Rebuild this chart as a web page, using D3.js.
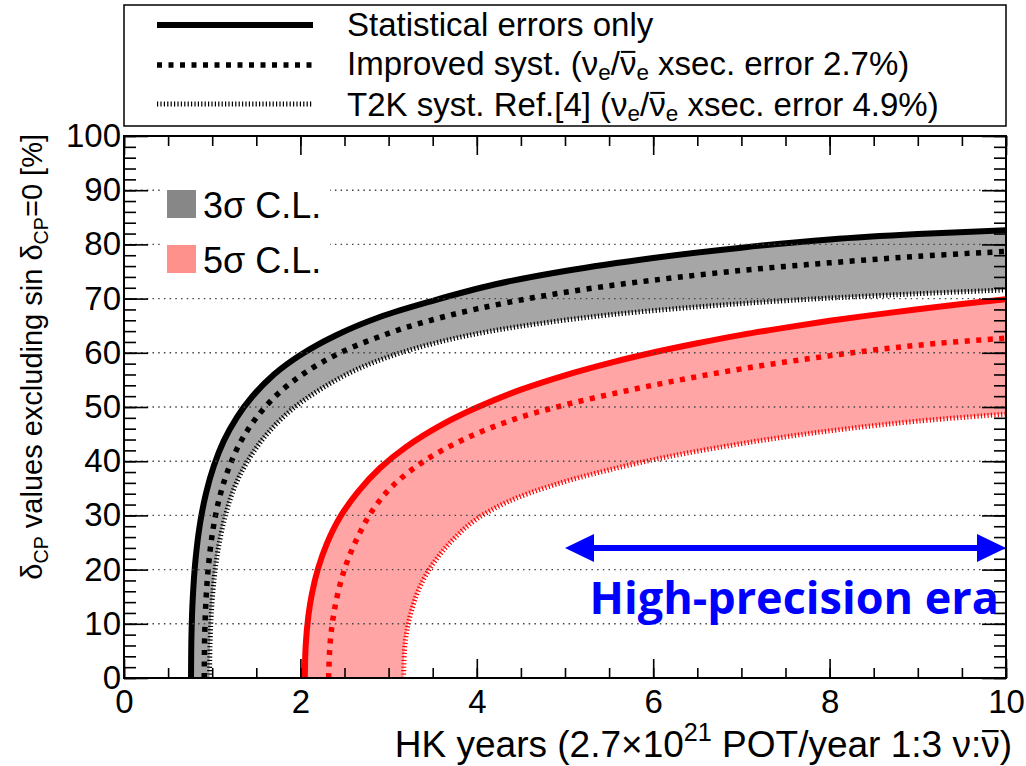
<!DOCTYPE html>
<html>
<head>
<meta charset="utf-8">
<script src="https://cdn.jsdelivr.net/npm/d3@7"></script>
<style>
  html, body { margin: 0; padding: 0; background: #fff; }
  svg { display: block; font-family: "Liberation Sans", Arial, Helvetica, sans-serif; }
</style>
</head>
<body>
<svg id="chart" width="1026" height="766"></svg>
<script>
// Fraction of delta_CP values that exclude sin(delta_CP)=0, vs. HK running time

// 3 sigma, statistical errors only
const years3Stat = [0.76, 0.765, 0.78, 0.81, 0.86, 0.93, 1.02, 1.13, 1.28, 1.45, 1.7, 2.0, 2.4, 2.9, 3.5, 4.2, 5.0, 6.0, 7.0, 8.0, 9.0, 10];
const frac3Stat  = [0, 8, 14.8, 21.7, 28.3, 34.1, 39.2, 43.7, 48.1, 51.85, 56, 59.6, 63.2, 66.6, 69.6, 72.6, 75.1, 77.5, 79.4, 80.9, 81.9, 82.6];
// 3 sigma, improved systematics
const years3Impr = [0.91, 0.915, 0.93, 0.96, 1.01, 1.08, 1.18, 1.32, 1.5, 1.75, 2.05, 2.45, 3.0, 3.5, 4.0, 4.65, 5.3, 6.0, 7.0, 8.0, 9.0, 10];
const frac3Impr  = [0, 7.8, 14.5, 21.1, 27.5, 33.1, 38.4, 43.5, 48, 52.5, 56.3, 60, 63.6, 66.1, 68.1, 70.2, 71.9, 73.4, 75.2, 76.6, 77.8, 78.7];
// 3 sigma, T2K systematics
const years3T2K  = [0.97, 0.975, 0.99, 1.02, 1.07, 1.15, 1.26, 1.42, 1.62, 1.9, 2.25, 2.65, 3.1, 3.6, 4.16, 4.8, 5.5, 6.3, 7.1, 8.0, 9.0, 10];
const frac3T2K   = [0, 6, 12, 18, 24, 30, 35.5, 40.5, 45, 49.5, 53.5, 57, 59.8, 62.1, 64, 65.6, 67, 68.2, 69.2, 70.1, 70.9, 71.6];
// 5 sigma, statistical errors only
const years5Stat = [2.05, 2.06, 2.09, 2.13, 2.2, 2.3, 2.45, 2.65, 2.9, 3.2, 3.6, 4.0, 4.5, 5.0, 5.5, 6.0, 6.5, 7.0, 7.5, 8.0, 8.5, 9.0, 9.5, 10];
const frac5Stat  = [0, 6, 11.4, 15.5, 20.2, 24.8, 29.7, 34.3, 38.7, 42.65, 46.7, 49.9, 53.2, 55.85, 58.1, 60.05, 61.75, 63.3, 64.65, 65.9, 67.0, 68.05, 69.0, 69.9];
// 5 sigma, improved systematics
const years5Impr = [2.32, 2.335, 2.37, 2.43, 2.52, 2.65, 2.82, 3.05, 3.4, 3.85, 4.4, 5.0, 5.7, 6.4, 7.1, 7.8, 8.5, 9.2, 10];
const frac5Impr  = [0, 6, 11, 16, 21, 26, 31, 35.5, 40, 44, 47.6, 50.4, 53, 55.3, 57.3, 59, 60.5, 61.7, 62.7];
// 5 sigma, T2K systematics
const years5T2K  = [3.17, 3.18, 3.21, 3.27, 3.36, 3.5, 3.7, 3.97, 4.35, 4.85, 5.45, 6.1, 6.8, 7.5, 8.2, 9.0, 10];
const frac5T2K   = [0, 5, 9, 13, 17, 21, 25, 29, 32.5, 35.5, 38.2, 40.6, 42.7, 44.5, 46, 47.4, 48.7];

// Axis ticks
const xMajorTicks = [0, 2, 4, 6, 8, 10];
const yMajorTicks = [0, 10, 20, 30, 40, 50, 60, 70, 80, 90, 100];
const yGridTicks  = [10, 20, 30, 40, 50, 60, 70, 80, 90];
const xMinorTicks = d3.range(0, 10.01, 0.5);
const yMinorTicks = d3.range(0, 100.01, 2);

// Annotation: era arrow span (years) and height (%)
const eraYears = [5.0, 10.0];
const eraLevel = 24;

const svg = d3.select("#chart");
const M = { l: 124, r: 1006, t: 136, b: 678 };
const FONT = 33;

const x = d3.scaleLinear().domain([0, 10]).range([M.l, M.r]);
const y = d3.scaleLinear().domain([0, 100]).range([M.b, M.t]);

const pts = (xs, ys) => xs.map((v, i) => [v, ys[i]]);
const line = d3.line().x(d => x(d[0])).y(d => y(d[1])).curve(d3.curveCatmullRom.alpha(0.5));

const defs = svg.append("defs");
defs.append("clipPath").attr("id", "plotClip")
  .append("rect").attr("x", M.l).attr("y", M.t).attr("width", M.r - M.l).attr("height", M.b - M.t);

const plot = svg.append("g").attr("clip-path", "url(#plotClip)");

// Band = below the stat-only curve and above/left of the T2K-syst curve
function band(id, statPts, t2kPts, fill) {
  const above = line(t2kPts) + `L${x(10)},${y(100)}L${x(0)},${y(100)}L${x(0)},${y(0)}Z`;
  defs.append("clipPath").attr("id", id).append("path").attr("d", above);
  const under = line(statPts) + `L${x(10)},${y(0)}Z`;
  plot.append("path").attr("d", under).attr("fill", fill).attr("clip-path", `url(#${id})`);
}

band("band3", pts(years3Stat, frac3Stat), pts(years3T2K, frac3T2K), "#a6a6a6");
band("band5", pts(years5Stat, frac5Stat), pts(years5T2K, frac5T2K), "#ffa5a5");

// Horizontal dotted grid
svg.append("g").selectAll("line").data(yGridTicks).join("line")
  .attr("x1", M.l).attr("x2", M.r)
  .attr("y1", d => y(d)).attr("y2", d => y(d))
  .attr("stroke", "#444").attr("stroke-width", 1.4).attr("stroke-dasharray", "1.5 4.2");

// Curve styles
const STYLE = {
  stat: { w: 6, dash: null },
  impr: { w: 5.5, dash: "5 6.5" },
  t2k:  { w: 5, dash: "1.2 2.2" }
};
function curve(xs, ys, style, color) {
  plot.append("path").attr("d", line(pts(xs, ys)))
    .attr("fill", "none").attr("stroke", color)
    .attr("stroke-width", style.w)
    .attr("stroke-dasharray", style.dash);
}
curve(years3T2K, frac3T2K, STYLE.t2k, "#000");
curve(years3Impr, frac3Impr, STYLE.impr, "#000");
curve(years3Stat, frac3Stat, STYLE.stat, "#000");
curve(years5T2K, frac5T2K, STYLE.t2k, "#ff0000");
curve(years5Impr, frac5Impr, STYLE.impr, "#ff0000");
curve(years5Stat, frac5Stat, STYLE.stat, "#ff0000");

// Axes (ticks pointing inward, mirrored on top/right)
function styleAxis(g) {
  g.select(".domain").remove();
  g.selectAll(".tick line").attr("stroke", "#000").attr("stroke-width", 1.6);
  g.selectAll("text").attr("font-family", "Liberation Sans, Arial, sans-serif").attr("font-size", FONT).attr("fill", "#000");
}
svg.append("g").attr("transform", `translate(0,${M.b})`)
  .call(d3.axisBottom(x).tickValues(xMajorTicks).tickSizeInner(-19).tickSizeOuter(0).tickPadding(12).tickFormat(d3.format("d")))
  .call(styleAxis);
svg.append("g").attr("transform", `translate(0,${M.b})`)
  .call(d3.axisBottom(x).tickValues(xMinorTicks).tickSizeInner(-10).tickSizeOuter(0).tickFormat(""))
  .call(styleAxis);
svg.append("g").attr("transform", `translate(0,${M.t})`)
  .call(d3.axisTop(x).tickValues(xMajorTicks).tickSizeInner(-19).tickSizeOuter(0).tickFormat(""))
  .call(styleAxis);
svg.append("g").attr("transform", `translate(0,${M.t})`)
  .call(d3.axisTop(x).tickValues(xMinorTicks).tickSizeInner(-10).tickSizeOuter(0).tickFormat(""))
  .call(styleAxis);
svg.append("g").attr("transform", `translate(${M.l},0)`)
  .call(d3.axisLeft(y).tickValues(yMajorTicks).tickSizeInner(-24).tickSizeOuter(0).tickPadding(3).tickFormat(d3.format("d")))
  .call(styleAxis);
svg.append("g").attr("transform", `translate(${M.l},0)`)
  .call(d3.axisLeft(y).tickValues(yMinorTicks).tickSizeInner(-12).tickSizeOuter(0).tickFormat(""))
  .call(styleAxis);
svg.append("g").attr("transform", `translate(${M.r},0)`)
  .call(d3.axisRight(y).tickValues(yMajorTicks).tickSizeInner(-24).tickSizeOuter(0).tickFormat(""))
  .call(styleAxis);
svg.append("g").attr("transform", `translate(${M.r},0)`)
  .call(d3.axisRight(y).tickValues(yMinorTicks).tickSizeInner(-12).tickSizeOuter(0).tickFormat(""))
  .call(styleAxis);

// Frame
svg.append("rect").attr("x", M.l).attr("y", M.t).attr("width", M.r - M.l).attr("height", M.b - M.t)
  .attr("fill", "none").attr("stroke", "#000").attr("stroke-width", 2);

// Text with sub/superscripts and overlined characters
function rich(g, px, py, parts, size, anchor, subShift) {
  const t = g.append("text").attr("x", px).attr("y", py)
    .attr("font-size", size).attr("text-anchor", anchor || "start").attr("fill", "#000");
  let shift = 0, idx = 0;
  const overs = [];
  const sub = subShift == null ? 0.2 : subShift;
  parts.forEach(([s, k]) => {
    const ts = t.append("tspan").text(s);
    const target = k === "sub" ? sub * size : k === "sup" ? -0.42 * size : 0;
    ts.attr("dy", target - shift);
    shift = target;
    if (k === "sub" || k === "sup") ts.attr("font-size", size * 0.68);
    if (k === "over") for (let i = 0; i < s.length; i++) overs.push(idx + i);
    idx += s.length;
  });
  overs.forEach(i => {
    const e = t.node().getExtentOfChar(i);
    g.append("line")
      .attr("x1", e.x + 1).attr("x2", e.x + e.width - 1)
      .attr("y1", py - 0.7 * size).attr("y2", py - 0.7 * size)
      .attr("stroke", "#000").attr("stroke-width", size * 0.06);
  });
  return t;
}

// Axis titles (right/top aligned)
rich(svg, 1012, 757, [
  ["HK years (2.7\u00d710", ""], ["21", "sup"], [" POT/year 1:3 \u03bd:", ""], ["\u03bd", "over"], [")", ""]
], 37, "end");

const yTitle = svg.append("g").attr("transform", `translate(42,${M.t - 2}) rotate(-90)`);
rich(yTitle, 0, 0, [
  ["\u03b4", ""], ["CP", "sub"], [" values excluding sin \u03b4", ""], ["CP", "sub"], ["=0 [%]", ""]
], 29, "end");

// Line-style legend
const leg = svg.append("g");
leg.append("rect").attr("x", M.l).attr("y", 5).attr("width", M.r - M.l).attr("height", 121)
  .attr("fill", "#fff").attr("stroke", "#000").attr("stroke-width", 1.5);
const legRows = [
  { style: STYLE.stat, yy: 25, base: 36, parts: [["Statistical errors only", ""]] },
  { style: STYLE.impr, yy: 65, base: 75, parts: [["Improved syst. (\u03bd", ""], ["e", "sub"], ["/", ""], ["\u03bd", "over"], ["e", "sub"], [" xsec. error 2.7%)", ""]] },
  { style: STYLE.t2k, yy: 104, base: 116, parts: [["T2K syst. Ref.[4] (\u03bd", ""], ["e", "sub"], ["/", ""], ["\u03bd", "over"], ["e", "sub"], [" xsec. error 4.9%)", ""]] }
];
legRows.forEach(r => {
  leg.append("line").attr("x1", 157).attr("x2", 313).attr("y1", r.yy).attr("y2", r.yy)
    .attr("stroke", "#000").attr("stroke-width", r.style.w).attr("stroke-dasharray", r.style.dash);
  rich(leg, 347, r.base, r.parts, 33, "start", 0.14);
});

// Confidence-level legend
const cl = svg.append("g");
cl.append("rect").attr("x", 160).attr("y", 178).attr("width", 170).attr("height", 108).attr("fill", "#fff");
const clRows = [
  { label: "3\u03c3 C.L.", fill: "#878787", top: 190 },
  { label: "5\u03c3 C.L.", fill: "#ff918c", top: 245 }
];
clRows.forEach(r => {
  cl.append("rect").attr("x", 167).attr("y", r.top).attr("width", 29).attr("height", 28).attr("fill", r.fill);
  cl.append("text").attr("x", 203).attr("y", r.top + 28).attr("font-size", 36).text(r.label);
});

// High-precision era annotation
const era = svg.append("g").attr("fill", "#0000ff");
const ay = y(eraLevel), ax0 = x(eraYears[0]), ax1 = x(eraYears[1]);
era.append("line").attr("x1", ax0 + 20).attr("x2", ax1 - 20).attr("y1", ay).attr("y2", ay)
  .attr("stroke", "#0000ff").attr("stroke-width", 6);
era.append("path").attr("d", `M${ax0},${ay}L${ax0 + 29},${ay - 14}L${ax0 + 29},${ay + 14}Z`);
era.append("path").attr("d", `M${ax1},${ay}L${ax1 - 29},${ay - 14}L${ax1 - 29},${ay + 14}Z`);
era.append("text").attr("x", 999).attr("y", 614).attr("text-anchor", "end")
  .attr("font-family", "'Open Sans', 'Noto Sans', sans-serif").attr("font-weight", 700)
  .attr("font-size", 45).text("High-precision era");
</script>
</body>
</html>
